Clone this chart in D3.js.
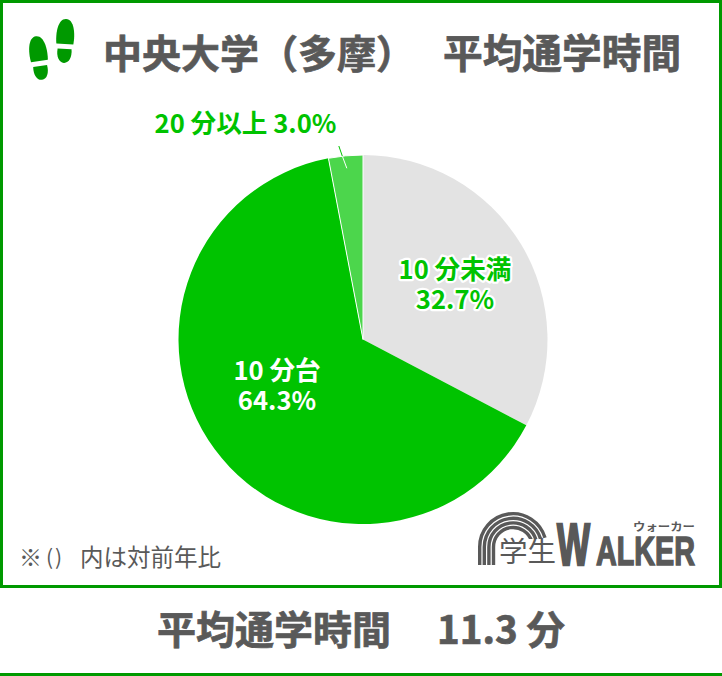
<!DOCTYPE html>
<html>
<head>
<meta charset="utf-8">
<script src="https://cdn.jsdelivr.net/npm/d3@7"></script>
<style>
  html, body { margin: 0; padding: 0; background: #fff; }
  svg { display: block; }
  text { font-family: "Noto Sans CJK JP", "Noto Sans", sans-serif; }
</style>
</head>
<body>
<div id="chart"></div>
<script>
// data
let categories = ["10 分未満", "10 分台", "20 分以上"];
let shares = [32.7, 64.3, 3.0];
let sliceColors = ["#e3e3e3", "#00c300", "#4cd64c"];
let title = ["中央大学（多摩）", "平均通学時間"];
let noteParts = ["※", "()", "内は対前年比"];
let averageLabel = "平均通学時間";
let averageValue = "11.3 分";

let w = 722, h = 676;
let green = "#009900";
let grey = "#595959";
let labelGreen = "#00c300";

let viz = d3.select("#chart").append("svg")
    .attr("width", w)
    .attr("height", h)
    .attr("viewBox", "0 0 " + w + " " + h)
;

// frames
viz.append("rect")
    .attr("x", 1.5).attr("y", 1.5)
    .attr("width", w - 3).attr("height", 585)
    .attr("fill", "none")
    .attr("stroke", green)
    .attr("stroke-width", 3)
;
viz.append("rect")
    .attr("x", 0).attr("y", h - 3)
    .attr("width", w).attr("height", 3)
    .attr("fill", green)
;

// heavy grey text, used for the title and the average line
function heavyText(str, x, y, size){
  return viz.append("text").text(str)
      .attr("x", x).attr("y", y)
      .attr("font-size", size)
      .attr("font-weight", 700)
      .attr("fill", grey)
      .attr("stroke", grey)
      .attr("stroke-width", 0.7);
}
heavyText(title[0], 103, 68, 39);
heavyText(title[1], 443, 68, 39.7);

// footprints next to the title
function foot(x, y, angle){
  let g = viz.append("g")
      .attr("transform", "translate(" + x + "," + y + ") rotate(" + angle + ")")
      .attr("fill", green);
  g.append("path").attr("d", "M-8.5,3 C-10,-8 -8,-22 0,-22 C8,-22 10,-8 8.5,3 Z");
  g.append("path").attr("d", "M-7,8 L7,8 C8,16 5,22 0,22 C-5,22 -8,16 -7,8 Z");
}
foot(39, 58, -8);
foot(65, 41, 3);

// pie
let cx = 363, cy = 339.5, radius = 184.5;
let pie = d3.pie().sort(null).value(function(d){ return d; });
let arcs = pie(shares);
let arcMaker = d3.arc().innerRadius(0).outerRadius(radius);

let pieGroup = viz.append("g")
    .attr("transform", "translate(" + cx + "," + cy + ")");

pieGroup.selectAll("path")
  .data(arcs)
  .enter()
  .append("path")
    .attr("d", arcMaker)
    .attr("fill", function(d, i){ return sliceColors[i]; })
    .attr("stroke", function(d, i){ return i == 2 ? "#fff" : "none"; })
    .attr("stroke-width", 1)
;

// leader for the small slice, white on the slice and green outside it
function polar(r, a){
  return [r * Math.sin(a), -r * Math.cos(a)];
}
let midAngle = (arcs[2].startAngle + arcs[2].endAngle) / 2;
let tilt = 0.03;
let leaderEdge = polar(radius, midAngle - tilt * 0.6);
pieGroup.append("line")
    .attr("x1", polar(172, midAngle)[0]).attr("y1", polar(172, midAngle)[1])
    .attr("x2", leaderEdge[0]).attr("y2", leaderEdge[1])
    .attr("stroke", "#fff");
pieGroup.append("line")
    .attr("x1", leaderEdge[0]).attr("y1", leaderEdge[1])
    .attr("x2", polar(195, midAngle - tilt)[0]).attr("y2", polar(195, midAngle - tilt)[1])
    .attr("stroke", labelGreen);

// slice labels
function sliceLabel(lines, x, y, fill, halo){
  let t = viz.append("text")
      .attr("text-anchor", "middle")
      .attr("font-size", 25.6)
      .attr("font-weight", 700)
      .attr("fill", fill)
      .attr("stroke", halo)
      .attr("stroke-width", halo == "none" ? 0 : 4.5)
      .attr("stroke-linejoin", "round")
      .style("paint-order", "stroke");
  lines.forEach(function(line, i){
    t.append("tspan").attr("x", x).attr("y", y + i * 30).text(line);
  });
}
sliceLabel([categories[0], shares[0].toFixed(1) + "%"], 455, 279, labelGreen, "#fff");
sliceLabel([categories[1], shares[1].toFixed(1) + "%"], 277, 380, "#fff", labelGreen);
sliceLabel([categories[2] + " " + shares[2].toFixed(1) + "%"], 245.5, 133, labelGreen, "none");

// note
viz.append("text").text(noteParts[0])
    .attr("x", 19).attr("y", 566).attr("font-size", 23).attr("fill", grey);
viz.append("text").text(noteParts[1])
    .attr("x", 46).attr("y", 565).attr("font-size", 21)
    .attr("letter-spacing", 2).attr("fill", grey);
viz.append("text").text(noteParts[2])
    .attr("x", 80).attr("y", 566).attr("font-size", 23.5).attr("fill", grey);

// logo
let logo = viz.append("g").attr("transform", "translate(513,547)");
[33.3, 28.7, 24.1, 19.5].forEach(function(r){
  let p = d3.path();
  p.moveTo(-r, 18);
  p.lineTo(-r, 0);
  p.arc(0, 0, r, Math.PI, Math.PI * 2 - 0.28);
  logo.append("path")
      .attr("d", p.toString())
      .attr("fill", "none")
      .attr("stroke", grey)
      .attr("stroke-width", 3.4);
});
logo.append("rect")
    .attr("x", -15).attr("y", -8)
    .attr("width", 44).attr("height", 20)
    .attr("fill", "#fff");
viz.append("text").text("学生")
    .attr("x", 499).attr("y", 562)
    .attr("font-size", 28.5).attr("fill", grey);

// squeezed logo lettering, scaled to the width it has in the picture
function logoWord(str, x, y, size, width, strokeWidth){
  let t = viz.append("text").text(str)
      .attr("font-size", size)
      .attr("font-weight", 700)
      .attr("stroke", grey)
      .attr("stroke-width", strokeWidth)
      .style("font-family", "'Liberation Sans Narrow', sans-serif")
      .attr("fill", grey);
  let scaleX = width / t.node().getComputedTextLength();
  t.attr("transform", "translate(" + x + "," + y + ") scale(" + scaleX + ",1)");
}
logoWord("W", 557, 565, 59, 33, 2.5);
logoWord("ALKER", 596, 565, 41, 99, 1.5);
viz.append("text").text("ウォーカー")
    .attr("x", 633).attr("y", 531)
    .attr("textLength", 62).attr("lengthAdjust", "spacingAndGlyphs")
    .attr("font-size", 11).attr("font-weight", 700)
    .attr("fill", grey);

// average line under the frame
heavyText(averageLabel, 157, 644, 39);
heavyText(averageValue, 437, 644, 38.5);
</script>
</body>
</html>
